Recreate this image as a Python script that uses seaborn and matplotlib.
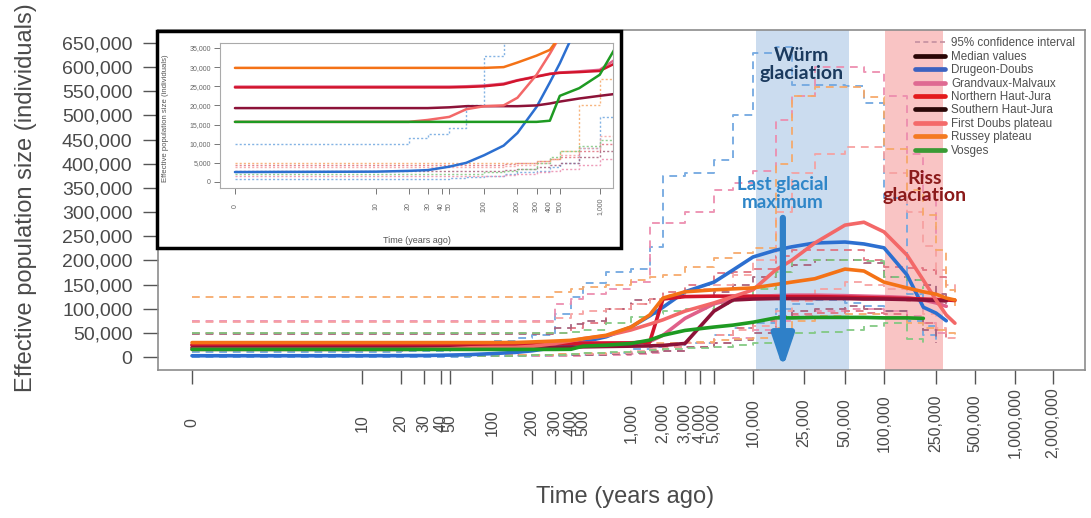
import matplotlib
matplotlib.use("Agg")
import matplotlib.pyplot as plt
import matplotlib.ticker as mtick
from matplotlib.lines import Line2D
from matplotlib.patches import Rectangle
import seaborn as sns
import pandas as pd
import numpy as np

nan = np.nan

# time grid (years ago) shared by every series
YEARS = [0, 10, 20, 30, 50, 70, 100, 150, 200, 300, 400, 500, 700, 1000, 1500, 2000,
         3000, 5000, 7000, 10000, 15000, 20000, 30000, 50000, 70000, 100000, 150000,
         200000, 250000, 300000, 350000]

# median effective population size
DD_MED = [2600, 2700, 2900, 3100, 4000, 5000, 7000, 9500, 12800, 19600, 26000, 31000, 42000, 62000, 85000, 103000,
          135000, 155000, 180000, 207000, 221000, 228000, 236000, 238000, 234000, 226000, 170000, 103000, 91000, 75000, nan]
GM_MED = [24900, 24900, 24900, 24900, 24900, 25000, 25200, 25700, 26600, 27600, 28300, 28600, 28900, 29300, 32000, 45000,
          80000, 110000, 120000, 125000, 127000, 128000, 128000, 127000, 126000, 125000, 123000, 118000, 112000, 105000, nan]
NH_MED = [24700, 24700, 24700, 24700, 24700, 24800, 25000, 25500, 26500, 27500, 28200, 28500, 28700, 29000, 31000, 120000,
          125000, 126000, 126000, 126000, 125000, 125000, 125000, 124000, 123000, 122000, 121000, 120000, 119000, 118000, 117000]
SH_MED = [19300, 19300, 19300, 19300, 19500, 19800, 19800, 19800, 19800, 20000, 20500, 21000, 21800, 22500, 23000, 24000,
          28000, 95000, 118000, 120000, 121000, 121000, 121000, 121000, 120000, 120000, 119000, 118000, 117000, 116000, nan]
FD_MED = [15700, 15700, 15700, 16200, 17000, 19000, 19800, 20000, 22000, 28000, 33500, 38000, 44000, 56000, 68000, 77000,
          95000, 112000, 125000, 139000, 180000, 200000, 236000, 273000, 279000, 259000, 211000, 159000, 118000, 87000, 70000]
RP_MED = [29800, 29800, 29800, 29800, 29800, 29800, 29800, 30000, 31200, 33000, 34500, 38000, 45000, 62000, 87000, 122000,
          135000, 139000, 141000, 143000, 150000, 155000, 162000, 182000, 178000, 155000, 143000, 135000, 130000, 122000, 118000]
VO_MED = [15700, 15700, 15700, 15700, 15700, 15700, 15700, 15700, 15700, 15700, 16000, 22500, 24500, 28000, 35000, 45000,
          55000, 62000, 66000, 72000, 81000, 81000, 82000, 82000, 82000, 81000, 81000, 80000, nan, nan, nan]

# 95% confidence interval bounds
DD_HI = [10000, 10000, 11500, 12500, 14000, 20000, 33000, 40000, 45000, 90000, 125000, 153000, 176000, 182000, 228000, 375000,
         380000, 408000, 500000, 630000, 642000, 563000, 563000, 560000, 525000, 330000, 130000, 65000, 35000, nan, nan]
DD_LO = [900, 900, 900, 900, 1000, 1200, 1500, 2000, 2500, 3000, 4000, 5000, 9000, 17000, 21000, 25000,
         30000, 45000, 60000, 70000, 100000, 110000, 118000, 112000, 105000, 95000, 75000, 45000, 35000, nan, nan]
GM_HI = [74000, 74000, 74000, 74000, 74000, 74000, 74000, 74000, 74000, 110000, 120000, 130000, 140000, 155000, 277000, 277000,
         300000, 345000, 360000, 385000, 490000, 540000, 600000, 600000, 590000, 540000, 420000, 330000, 250000, nan, nan]
GM_LO = [1500, 1500, 1500, 1500, 1500, 1500, 1500, 1800, 2000, 2500, 3000, 3500, 4500, 6000, 9000, 13000,
         20000, 30000, 40000, 55000, 75000, 85000, 95000, 100000, 100000, 95000, 85000, 70000, 50000, 40000, nan]
NH_HI = [50000, 50000, 50000, 50000, 50000, 50000, 50000, 50000, 50000, 50000, 60000, 70000, 100000, 110000, 120000, 135000,
         150000, 174000, 176000, 182000, 210000, 221000, 221000, 221000, 200000, 186000, 184000, 180000, 165000, 150000, nan]
NH_LO = [4500, 4500, 4500, 4500, 4500, 4500, 4500, 4700, 5000, 5500, 6000, 6500, 8000, 10000, 13000, 20000,
         30000, 45000, 60000, 75000, 85000, 90000, 92000, 95000, 92000, 88000, 80000, 70000, 55000, 40000, nan]
SH_HI = [48000, 48000, 48000, 48000, 48000, 48000, 48000, 48000, 48000, 60000, 68000, 75000, 100000, 118000, 120000, 122000,
         125000, 135000, 150000, 165000, 175000, 190000, 200000, 200000, 195000, 165000, 160000, 150000, 130000, 110000, nan]
SH_LO = [3000, 3000, 3000, 3000, 3000, 3000, 3000, 3200, 3500, 4000, 4500, 5000, 6500, 8000, 10000, 12000,
         20000, 28000, 35000, 50000, 85000, 95000, 100000, 105000, 100000, 95000, 80000, 55000, 30000, nan, nan]
FD_HI = [72000, 72000, 72000, 72000, 72000, 72000, 72000, 72000, 72000, 80000, 88000, 95000, 100000, 110000, 120000, 128000,
         140000, 150000, 170000, 200000, 300000, 380000, 420000, 435000, 435000, 380000, 300000, 230000, 180000, 150000, 130000]
FD_LO = [4000, 4000, 4000, 4000, 4000, 4000, 4000, 4200, 4500, 5000, 6000, 7000, 9000, 12000, 16000, 20000,
         30000, 45000, 55000, 65000, 95000, 115000, 140000, 155000, 150000, 140000, 115000, 90000, 60000, 40000, 35000]
RP_HI = [124000, 124000, 124000, 124000, 124000, 124000, 124000, 124000, 124000, 135000, 140000, 145000, 150000, 160000, 165000, 170000,
         186000, 205000, 215000, 226000, 400000, 540000, 559000, 559000, 538000, 430000, 345000, 294000, 221000, 139000, 100000]
RP_LO = [5000, 5000, 5000, 5000, 5000, 5000, 5000, 5000, 5000, 5500, 6000, 8000, 20000, 27000, 28000, 30000,
         32000, 35000, 38000, 40000, 60000, 75000, 85000, 90000, 88000, 80000, 70000, 60000, 55000, 50000, 45000]
VO_HI = [50000, 50000, 50000, 50000, 50000, 50000, 50000, 50000, 50000, 50000, 52000, 55000, 70000, 83000, 90000, 95000,
         100000, 110000, 120000, 140000, 175000, 200000, 200000, 200000, 198000, 165000, 160000, 140000, nan, nan, nan]
VO_LO = [2000, 2000, 2000, 2000, 2000, 2200, 2500, 3000, 3500, 5000, 6500, 8000, 9500, 11000, 14000, 16000,
         18000, 20000, 25000, 30000, 40000, 50000, 52000, 55000, 65000, 70000, 38000, 30000, nan, nan, nan]

POPS = ["Drugeon-Doubs", "Grandvaux-Malvaux", "Northern Haut-Jura", "Southern Haut-Jura",
        "First Doubs plateau", "Russey plateau", "Vosges"]
MEDIANS = [DD_MED, GM_MED, NH_MED, SH_MED, FD_MED, RP_MED, VO_MED]
LOWER = [DD_LO, GM_LO, NH_LO, SH_LO, FD_LO, RP_LO, VO_LO]
UPPER = [DD_HI, GM_HI, NH_HI, SH_HI, FD_HI, RP_HI, VO_HI]

LINE_COLORS = ["#2c6fd0", "#e0608a", "#d2142c", "#8c1238", "#f36868", "#f47216", "#1e9a22"]
CI_COLORS = ["#6fa6e0", "#ec8cae", "#e0707e", "#a8607a", "#f6a0a0", "#f6a868", "#80c880"]

LEGEND_LABELS = ["95% confidence interval", "Median values"] + POPS
LEGEND_COLORS = ["#c490a0", "#2a0505", "#3d62c0", "#df6a92", "#e41a1c", "#2a0808", "#f46a6a", "#f47a22", "#3a9a34"]

# the time axis of the original is a hand-made compressed scale: tick values and where they sit
TICK_YEARS = [0, 10, 20, 30, 40, 50, 100, 200, 300, 400, 500, 1000, 2000, 3000, 4000, 5000,
              10000, 25000, 50000, 100000, 250000, 500000, 1000000, 2000000]
TICK_POS = [192, 362, 401, 424, 441, 450, 492, 532, 555, 571, 583, 631, 663, 685, 700, 714,
            753, 804, 845, 884, 936, 975, 1015, 1053]
INSET_TICKS = [0, 10, 20, 30, 40, 50, 100, 200, 300, 400, 500, 1000]

_lt = np.log10(np.array(TICK_YEARS + [4000000], float) + 1)
_lp = np.array(TICK_POS + [1091], float)


def fwd(x):
    x = np.asarray(x, float)
    t = np.log10(np.clip(x, 0, None) + 1)
    return np.where(x < 0, _lp[0] + x, np.interp(t, _lt, _lp))


def inv(p):
    p = np.asarray(p, float)
    return np.where(p < _lp[0], p - _lp[0], 10 ** np.interp(p, _lp, _lt) - 1)


sns.set_style("white")
plt.rcParams["font.family"] = ["Liberation Sans", "DejaVu Sans"]

W, H = 1091, 518


def fbox(l, t, r, b):
    return [l / W, 1 - b / H, (r - l) / W, (b - t) / H]


def draw(ax, vals, color, lw, ls="-", alpha=1.0, steps=False, z=2):
    df = pd.DataFrame({"years": YEARS, "ne": vals}).dropna()
    sns.lineplot(data=df, x="years", y="ne", ax=ax, color=color, linewidth=lw,
                 linestyle=ls, alpha=alpha, estimator=None, legend=False, zorder=z,
                 drawstyle="steps-post" if steps else "default")


fig = plt.figure(figsize=(10.91, 5.18), dpi=100)
ax = fig.add_axes(fbox(158, 30, 1085, 370))
ax.set_xscale("function", functions=(fwd, inv))

ax.axvspan(10500, 53700, color="#cbdcef", lw=0, zorder=0)
ax.axvspan(101800, 283000, color="#f9c4c4", lw=0, zorder=0)

for lo, hi, c in zip(LOWER, UPPER, CI_COLORS):
    draw(ax, hi, c, 1.4, ls=(0, (4, 3)), alpha=0.9, steps=True)
    draw(ax, lo, c, 1.4, ls=(0, (4, 3)), alpha=0.9, steps=True)
for med, c in zip(MEDIANS, LINE_COLORS):
    draw(ax, med, c, 2.6, z=3)

ax.set_xlim(float(inv(158)), float(inv(1085)))
ax.set_ylim(-26900, 676900)
ax.set_xticks(TICK_YEARS)
ax.set_xticklabels([f"{v:,}" for v in TICK_YEARS], rotation=90, va="center")
ax.set_yticks(np.arange(0, 650001, 50000))
ax.yaxis.set_major_formatter(mtick.StrMethodFormatter("{x:,.0f}"))
ax.tick_params(axis="x", length=10, width=1, color="#555555", pad=28, labelsize=11.5, labelcolor="#4a4a4a")
ax.tick_params(axis="y", length=10.8, width=1, color="#555555", pad=7.5, labelsize=14, labelcolor="#4a4a4a")
ax.tick_params(left=True, bottom=True)
ax.set_xlabel("")
ax.set_ylabel("Effective population size (individuals)", fontsize=17, color="#4a4a4a")
ax.yaxis.set_label_coords(-0.1305, 0.506)
for s in ax.spines.values():
    s.set_color("#8c8c8c")
    s.set_linewidth(1.2)
fig.text(625 / W, 1 - 497 / H, "Time (years ago)", ha="center", va="center", fontsize=17, color="#4a4a4a")

# period annotations
ax.text(24000, 605000, "Würm\nglaciation", ha="center", va="center", color="#1b3a5e",
        fontsize=14, fontweight="bold", family="Lato", linespacing=1.05, zorder=5)
ax.text(17100, 338000, "Last glacial\nmaximum", ha="center", va="center", color="#2f86c8",
        fontsize=13.5, fontweight="bold", family="Lato", linespacing=1.05, zorder=5)
ax.text(206000, 352000, "Riss\nglaciation", ha="center", va="center", color="#8b1a1a",
        fontsize=14, fontweight="bold", family="Lato", linespacing=1.05, zorder=5)
ax.annotate("", xy=(17100, -22800), xytext=(17100, 288000), zorder=6,
            arrowprops=dict(arrowstyle="-|>,head_length=0.65,head_width=0.22", color="#2f80c8",
                            lw=4.5, mutation_scale=30, shrinkA=0, shrinkB=0))

handles = [Line2D([], [], color=LEGEND_COLORS[0], lw=1.2, ls=(0, (3, 2)))]
handles += [Line2D([], [], color=c, lw=3.4) for c in LEGEND_COLORS[1:]]
leg = ax.legend(handles, LEGEND_LABELS, loc="upper left", bbox_to_anchor=(0.8166, 0.978),
                frameon=False, fontsize=8.4, handlelength=2.6, handletextpad=0.5,
                labelspacing=0.12, borderpad=0, borderaxespad=0)
for t in leg.get_texts():
    t.set_color("#505050")

# inset: zoom on the last ~1,300 years
fig.add_artist(Rectangle((157 / W, 1 - 248 / H), (621 - 157) / W, (248 - 31) / H,
                         transform=fig.transFigure, facecolor="white", edgecolor="black",
                         lw=2.5, zorder=5))
axi = fig.add_axes(fbox(220, 43, 613, 188), zorder=6)
axi.set_xscale("function", functions=(fwd, inv))
for lo, hi, c in zip(LOWER, UPPER, CI_COLORS):
    draw(axi, hi, c, 1.0, ls=(0, (1.5, 1.5)), alpha=0.85, steps=True)
    draw(axi, lo, c, 1.0, ls=(0, (1.5, 1.5)), alpha=0.85, steps=True)
for med, c in zip(MEDIANS, LINE_COLORS):
    draw(axi, med, c, 1.8, z=3)
axi.set_xlim(float(inv(174)), float(inv(647)))
axi.set_ylim(-1570, 36300)
axi.set_xticks(INSET_TICKS)
axi.set_xticklabels([f"{v:,}" for v in INSET_TICKS], rotation=90, va="center")
axi.set_yticks(np.arange(0, 35001, 5000))
axi.yaxis.set_major_formatter(mtick.StrMethodFormatter("{x:,.0f}"))
axi.tick_params(axis="x", length=4, width=0.7, color="#777777", pad=9, labelsize=5, labelcolor="#666666")
axi.tick_params(axis="y", length=4, width=0.7, color="#777777", pad=2.5, labelsize=5, labelcolor="#666666")
axi.tick_params(left=True, bottom=True)
axi.set_xlabel("Time (years ago)", fontsize=6.5, color="#555555")
axi.xaxis.set_label_coords(0.501, -0.33)
axi.set_ylabel("Effective population size (individuals)", fontsize=5.6, color="#555555")
axi.yaxis.set_label_coords(-0.13, 0.48)
for s in axi.spines.values():
    s.set_color("#aaaaaa")
    s.set_linewidth(0.8)

fig.savefig("out.png", dpi=100)
